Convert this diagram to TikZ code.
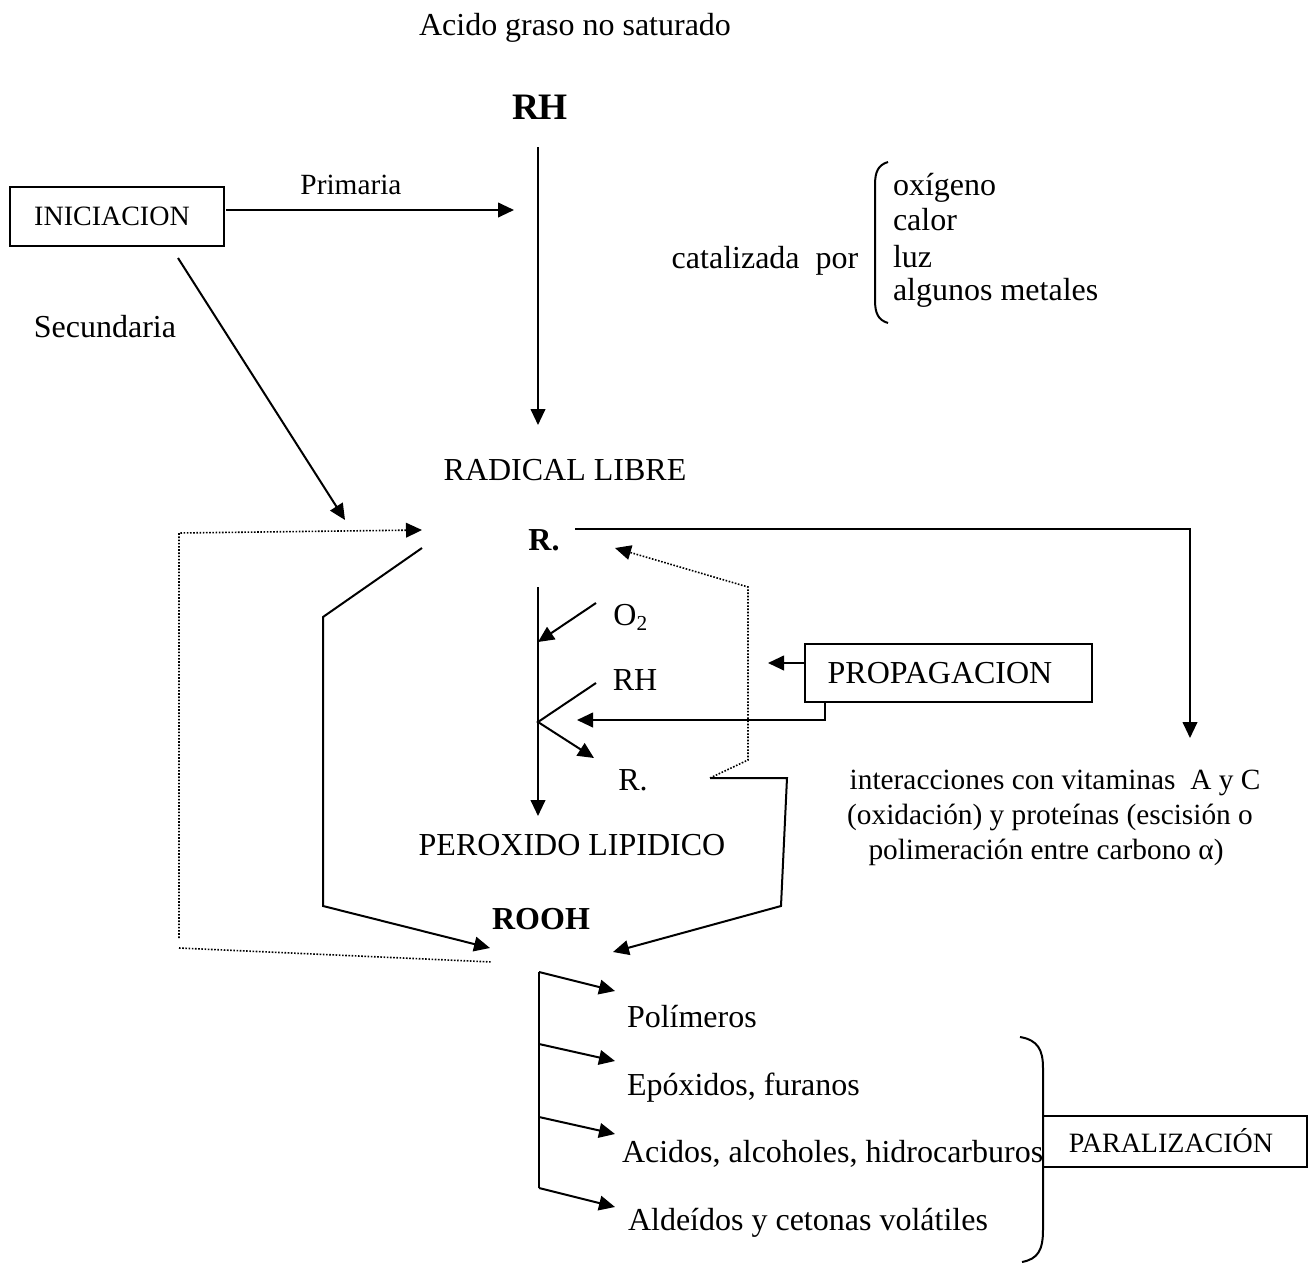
\documentclass[tikz,border=0pt]{standalone}
\usepackage{fontspec}
\setmainfont{Liberation Serif}
\usetikzlibrary{arrows.meta}
\begin{document}
\begin{tikzpicture}[x=0.375pt,y=-0.375pt,
  every node/.style={inner sep=0pt,outer sep=0pt},
  t12/.style={font=\fontsize{12}{14}\selectfont,anchor=base},
  t11/.style={font=\fontsize{11}{13}\selectfont,anchor=base},
  t105/.style={font=\fontsize{10.5}{12.5}\selectfont,anchor=base},
  b14/.style={font=\fontsize{14}{16}\selectfont\bfseries,anchor=base},
  b12/.style={font=\fontsize{12}{14}\selectfont\bfseries,anchor=base},
  ln/.style={line width=0.75pt},
  arr/.style={line width=0.75pt,-{Triangle[length=6pt,width=5.5pt]}},
  dotl/.style={line width=0.6pt,dash pattern=on 0.6pt off 0.6pt},
  dotarr/.style={dotl,-{Triangle[length=6pt,width=5.5pt]}},
  boxed/.style={draw,line width=0.75pt}]
\path[use as bounding box] (0,0) rectangle (1316,1264);

% texts
\node[t12] (title) at (575,35.5) {Acido graso no saturado};
\node[b14] (rh) at (540,119.4) {RH};
\node[t11] (prim) at (351,194.7) {Primaria};
\node[t12] (secu) at (105,337.5) {Secundaria};
\node[t12] (cat) at (765,268.5) {catalizada\ \ por};
\node[t12,anchor=base west] (c1) at (893,195.5) {oxígeno};
\node[t12,anchor=base west] (c2) at (893,230.5) {calor};
\node[t12,anchor=base west] (c3) at (893,267.5) {luz};
\node[t12,anchor=base west] (c4) at (893,300.5) {algunos metales};
\node[t12] (rl) at (565,480.5) {RADICAL LIBRE};
\node[b12] (r1) at (544,550.5) {R.};
\node[t12] (o2) at (631,625.5) {O\textsubscript{2}};
\node[t12] (rh2) at (635,690.5) {RH};
\node[t12] (r2) at (633,790.5) {R.};
\node[t12] (pero) at (572,855.5) {PEROXIDO LIPIDICO};
\node[t11] (int1) at (1055,789.7) {interacciones con vitaminas\ \ A y C};
\node[t11] (int2) at (1050,824.7) {(oxidación) y proteínas (escisión o};
\node[t11] (int3) at (1046,859.7) {polimeración entre carbono α)};
\node[b12] (rooh) at (541,929.5) {ROOH};
\node[t12,anchor=base west] (p1) at (627,1027.5) {Polímeros};
\node[t12,anchor=base west] (p2) at (627,1095.5) {Epóxidos, furanos};
\node[t12,anchor=base west] (p3) at (622,1162.5) {Acidos, alcoholes, hidrocarburos};
\node[t12,anchor=base west] (p4) at (628,1230.5) {Aldeídos y cetonas volátiles};

% boxes
\draw[boxed] (10,187) rectangle (224,246);
\node[t105] (ini) at (112,225.5) {INICIACION};
\draw[boxed] (805,644) rectangle (1092,702);
\node[t12] (prop) at (940,683.5) {PROPAGACION};
\draw[boxed] (1043,1116) rectangle (1307,1167);
\node[t105] (para) at (1171,1152.3) {PARALIZACIÓN};

% coordinates
\coordinate (rhA) at (538,147);
\coordinate (rhB) at (538,425);
\coordinate (iniE) at (226,210);
\coordinate (primTip) at (514,210);
\coordinate (secA) at (178,258);
\coordinate (secB) at (345,520);
\coordinate (dL1) at (179,938);
\coordinate (dL2) at (179,533);
\coordinate (dL3) at (422,530);
\coordinate (dB1) at (179,948);
\coordinate (dB2) at (492,962);
\coordinate (sL1) at (422,548);
\coordinate (sL2) at (323,617);
\coordinate (sL3) at (323,906);
\coordinate (sL4) at (490,948);
\coordinate (tR1) at (575,529);
\coordinate (tR2) at (1190,529);
\coordinate (tR3) at (1190,738);
\coordinate (dR1) at (710,778);
\coordinate (dR2) at (748,760);
\coordinate (dR3) at (748,587);
\coordinate (dR4) at (615,548);
\coordinate (mv1) at (538,587);
\coordinate (mv2) at (538,816);
\coordinate (o2a) at (596,603);
\coordinate (o2b) at (538,642);
\coordinate (rha) at (596,683);
\coordinate (rhb) at (538,722);
\coordinate (rhc) at (594,758);
\coordinate (pw1) at (805,663);
\coordinate (pw2) at (768,663);
\coordinate (pb1) at (825,702);
\coordinate (pb2) at (825,720);
\coordinate (pb3) at (577,720);
\coordinate (sR1) at (787,778);
\coordinate (sR2) at (781,906);
\coordinate (sR3) at (613,952);
\coordinate (tv1) at (539,972);
\coordinate (tv2) at (539,1044);
\coordinate (tv3) at (539,1117);
\coordinate (tv4) at (539,1188);
\coordinate (tt1) at (615,991);
\coordinate (tt2) at (615,1061);
\coordinate (tt3) at (615,1134);
\coordinate (tt4) at (615,1207);

% connectors
\draw[arr] (rhA) -- (rhB);
\draw[arr] (iniE) -- (primTip);
\draw[arr] (secA) -- (secB);
\draw[dotarr] (dL1) -- (dL2) -- (dL3);
\draw[dotl] (dB1) -- (dB2);
\draw[arr] (sL1) -- (sL2) -- (sL3) -- (sL4);
\draw[arr] (tR1) -- (tR2) -- (tR3);
\draw[dotarr] (dR1) -- (dR2) -- (dR3) -- (dR4);
\draw[arr] (mv1) -- (mv2);
\draw[arr] (o2a) -- (o2b);
\draw[arr] (rha) -- (rhb) -- (rhc);
\draw[arr] (pw1) -- (pw2);
\draw[arr] (pb1) -- (pb2) -- (pb3);
\draw[arr] (dR1) -- (sR1) -- (sR2) -- (sR3);
\draw[ln] (tv1) -- (tv4);
\draw[arr] (tv1) -- (tt1);
\draw[arr] (tv2) -- (tt2);
\draw[arr] (tv3) -- (tt3);
\draw[arr] (tv4) -- (tt4);

% brackets
\draw[ln] (888,162) .. controls (878,165) and (875,172) .. (875,185) -- (875,300) .. controls (875,313) and (878,320) .. (888,323);
\draw[ln] (1020,1037) .. controls (1038,1040) and (1043,1050) .. (1043,1068) -- (1043,1230) .. controls (1043,1250) and (1038,1259) .. (1022,1262);
\end{tikzpicture}
\end{document}
